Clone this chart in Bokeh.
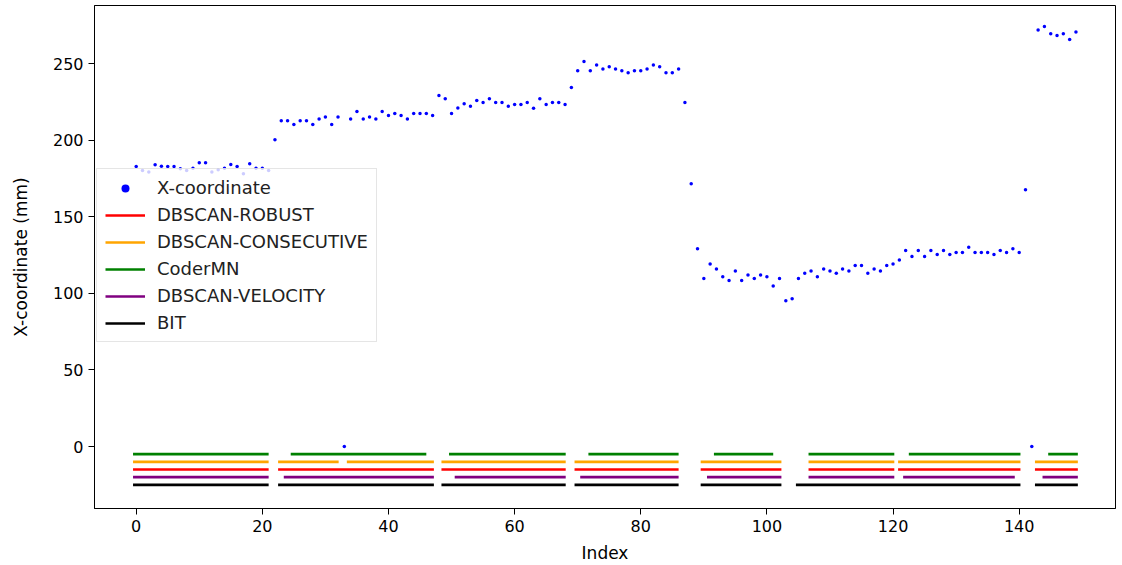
from bokeh.plotting import figure
from bokeh.models import Range1d, FixedTicker, Legend, LegendItem, ColumnDataSource
from bokeh.embed import file_html
from bokeh.resources import INLINE

# ---- data ----
x_coordinate = [
    182.8, 180.2, 179.1, 183.9, 183.0, 182.8, 182.8, 181.3, 180.2, 181.7,
    185.2, 185.2, 179.1, 180.6, 181.7, 184.1, 182.8, 178.0, 184.5, 181.7,
    181.7, 180.2,
    200.2,
    212.6, 212.6, 210.2, 212.6, 212.6, 210.2, 213.7, 215.0, 210.2, 215.0,
    0.0,
    213.7, 218.7, 213.7, 215.0, 213.7, 218.7, 216.0, 217.4, 216.0, 213.7,
    217.4, 217.4, 217.4, 216.0,
    229.1, 227.0,
    217.4, 221.0, 223.7, 222.1, 225.8, 224.5, 227.0, 224.5, 224.5, 222.1,
    223.3, 223.3, 224.5, 220.8, 227.0, 223.3, 224.5, 224.5, 223.3,
    234.3,
    245.2, 251.3, 245.2, 249.0, 246.4, 247.8, 246.4, 245.2, 243.9, 245.2,
    245.2, 246.4, 249.0, 247.8, 243.9, 243.9, 246.4,
    224.5,
    171.5,
    129.0, 109.7, 119.2, 115.8, 110.8, 108.4, 114.5, 108.4, 112.0, 109.7,
    112.0, 110.8, 104.7, 109.7, 95.1, 96.4, 109.7, 113.1, 114.5, 110.8,
    115.8, 114.5, 113.1, 115.8, 114.5, 118.1, 118.1, 113.1, 115.8, 114.5,
    118.1, 119.2, 121.8, 127.9, 124.0, 127.9, 124.0, 127.9, 125.3, 127.9,
    125.3, 126.6, 126.6, 130.1, 126.6, 126.6, 126.6, 125.3, 127.9, 126.6,
    129.0, 126.6, 167.6,
    0.0,
    271.8, 274.2, 269.4, 268.3, 269.4, 265.7, 270.6,
]
index = list(range(len(x_coordinate)))

method_names = ["DBSCAN-ROBUST", "DBSCAN-CONSECUTIVE", "CoderMN", "DBSCAN-VELOCITY", "BIT"]
method_colors = ["red", "orange", "green", "purple", "black"]
method_levels = [-15, -10, -5, -20, -25]

robust_segments = [(-0.5, 21.0), (22.5, 47.2), (48.4, 68.1), (69.5, 86.0), (89.5, 102.3),
                   (106.6, 120.2), (120.8, 140.2), (142.5, 149.3)]
consecutive_segments = [(-0.5, 21.0), (22.5, 32.1), (33.4, 47.2), (48.4, 68.1), (69.5, 86.0),
                        (89.5, 102.3), (106.6, 120.2), (120.8, 140.2), (142.5, 149.3)]
codermn_segments = [(-0.5, 21.0), (24.5, 46.0), (49.6, 68.1), (71.7, 86.0), (91.6, 101.0),
                    (106.6, 120.2), (122.5, 140.2), (144.6, 149.3)]
velocity_segments = [(-0.5, 21.0), (23.4, 47.2), (50.5, 68.1), (70.4, 86.0), (90.5, 102.3),
                     (106.6, 120.2), (121.6, 139.3), (143.7, 149.3)]
bit_segments = [(-0.5, 21.0), (22.5, 47.2), (48.4, 68.1), (69.5, 86.0), (89.5, 102.3),
                (104.6, 140.2), (142.5, 149.3)]
method_segments = [robust_segments, consecutive_segments, codermn_segments,
                   velocity_segments, bit_segments]

x_ticks = [0, 20, 40, 60, 80, 100, 120, 140]
y_ticks = [0, 50, 100, 150, 200, 250]

FONT = "DejaVu Sans"

p = figure(
    frame_width=1021, frame_height=503,
    x_range=Range1d(-6.61, 155.27), y_range=Range1d(-40.47, 287.86),
    output_backend="svg", toolbar_location=None,
    min_border_left=94, min_border_right=7, min_border_top=5, min_border_bottom=57,
    background_fill_color="white", border_fill_color="white",
)
p.xgrid.visible = False
p.ygrid.visible = False
p.outline_line_color = "black"
p.outline_line_width = 1

for ax, ticks in ((p.xaxis[0], x_ticks), (p.yaxis[0], y_ticks)):
    ax.ticker = FixedTicker(ticks=ticks)
    ax.axis_line_color = "black"
    ax.major_tick_line_color = "black"
    ax.major_tick_out = 6
    ax.major_tick_in = 0
    ax.minor_tick_line_color = None
    ax.major_label_text_font = FONT
    ax.major_label_text_font_size = "16px"
    ax.major_label_text_color = "black"
    ax.axis_label_text_font = FONT
    ax.axis_label_text_font_size = "17px"
    ax.axis_label_text_font_style = "normal"
    ax.axis_label_text_color = "black"

p.xaxis.axis_label = "Index"
p.yaxis.axis_label = "X-coordinate (mm)"
p.xaxis.major_label_standoff = 5
p.xaxis.axis_label_standoff = 8
p.yaxis.major_label_standoff = 5
p.yaxis.axis_label_standoff = 19

seg_renderers = []
for name, color, level, segs in zip(method_names, method_colors, method_levels, method_segments):
    src = ColumnDataSource(dict(
        x0=[s[0] for s in segs], x1=[s[1] for s in segs],
        y=[level] * len(segs),
    ))
    r = p.segment(x0="x0", y0="y", x1="x1", y1="y", source=src,
                  line_color=color, line_width=2.7)
    seg_renderers.append((name, r))

sc = p.scatter(index, x_coordinate, marker="circle", size=3.5, color="blue", line_color=None)

items = [LegendItem(label="X-coordinate", renderers=[sc])]
for name, r in seg_renderers:
    items.append(LegendItem(label=name, renderers=[r]))

legend = Legend(
    items=items, location=(2, 166),
    label_text_font=FONT, label_text_font_size="18px", label_text_color="#222222",
    glyph_width=40, glyph_height=20, label_height=20, spacing=6, padding=8,
    label_standoff=12, margin=0,
    border_line_color="#cccccc", border_line_width=1,
    background_fill_color="white", background_fill_alpha=0.8,
)
p.add_layout(legend)

open("out.html", "w").write(file_html(p, INLINE))
